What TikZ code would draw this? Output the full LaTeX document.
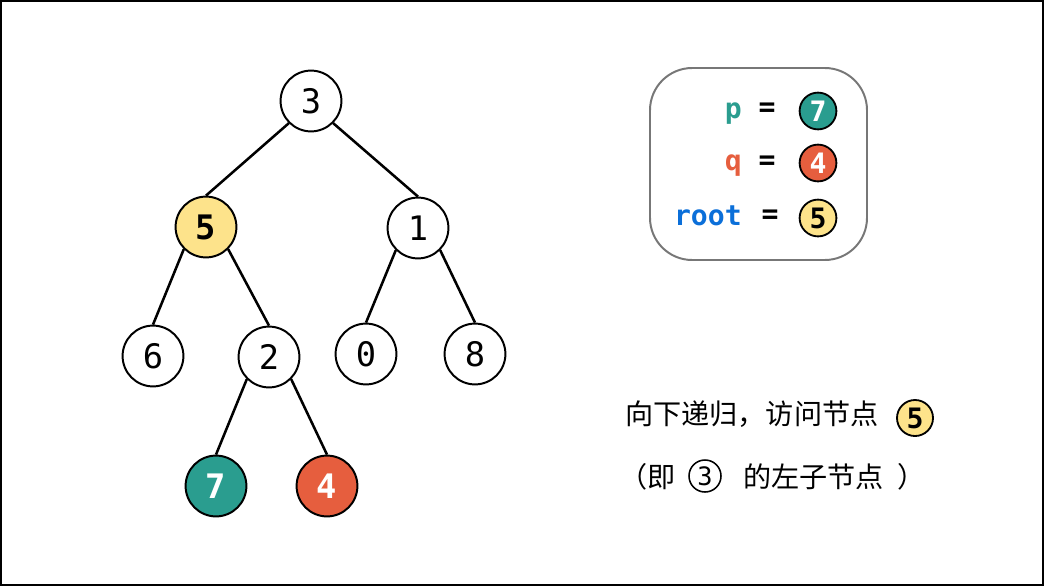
\documentclass[tikz,border=0pt]{standalone}
\usepackage{fontspec}
\setmonofont{DejaVu Sans Mono}
\newfontfamily\cjk{Noto Sans CJK SC}
\usetikzlibrary{calc}
\definecolor{pteal}{HTML}{2A9D8F}
\definecolor{qred}{HTML}{E65E3E}
\definecolor{ryellow}{HTML}{FDE38B}
\definecolor{rblue}{HTML}{0B6FD9}
\definecolor{boxgray}{HTML}{777777}

\begin{document}
\begin{tikzpicture}[x=0.025cm,y=-0.025cm,
  vertex/.style={circle,draw,line width=1.4pt,minimum size=1.52cm,inner sep=0pt,
    font=\ttfamily\fontsize{24}{24}\selectfont},
  dot/.style={circle,draw,line width=1.3pt,minimum size=0.92cm,inner sep=0pt,
    font=\ttfamily\bfseries\fontsize{20}{20}\selectfont},
  edge/.style={line width=1.8pt},
  label/.style={font=\ttfamily\bfseries\fontsize{20}{20}\selectfont,inner sep=0pt},
  cn/.style={font=\cjk\fontsize{20}{20}\selectfont,inner sep=0pt,anchor=west}]
  \useasboundingbox (0,0) rectangle (1044,586);
  \draw[line width=1.5pt] (1,1) rectangle (1043,585);

  % tree
  \node[vertex] (n3) at (311,101) {3};
  \node[vertex,fill=ryellow,font=\ttfamily\bfseries\fontsize{24}{24}\selectfont] (n5) at (206,227) {5};
  \node[vertex] (n1) at (418,228) {1};
  \node[vertex] (n6) at (153,356) {6};
  \node[vertex] (n2) at (269,357) {2};
  \node[vertex] (n0) at (366,354) {0};
  \node[vertex] (n8) at (475,354) {8};
  \node[vertex,fill=pteal,text=white,font=\ttfamily\bfseries\fontsize{24}{24}\selectfont] (n7) at (216,486) {7};
  \node[vertex,fill=qred,text=white,font=\ttfamily\bfseries\fontsize{24}{24}\selectfont] (n4) at (327,486) {4};
  \foreach \p/\c/\s in {n3/n5/south west,n3/n1/south east,n5/n6/south west,n5/n2/south east,
      n1/n0/south west,n1/n8/south east,n2/n7/south west,n2/n4/south east}
    \draw[edge] (\p.\s) -- (\c.north);

  % legend
  \draw[boxgray,line width=1.4pt,rounded corners=30] (650,68) rectangle (867,260);
  \node[label,text=pteal,anchor=base east] (lp) at (742,118) {p};
  \node[label,text=qred,anchor=base east] (lq) at (742,170) {q};
  \node[label,text=rblue,anchor=base east] (lr) at (742,225) {root};
  \node[label] (ep) at (767,110) {=};
  \node[label] (eq) at (767,163) {=};
  \node[label] (er) at (770,217) {=};
  \node[dot,fill=pteal,text=white] (dp) at (818,111) {7};
  \node[dot,fill=qred,text=white] (dq) at (818,163) {4};
  \node[dot,fill=ryellow] (dr) at (818,218) {5};

  % note
  \node[cn] (t1) at (625,414) {向下递归，访问节点};
  \node[dot,minimum size=0.9cm,fill=ryellow] (c5) at (915,418) {5};
  \node[cn] (t2) at (619,477) {（即};
  \node[circle,draw,line width=1.1pt,minimum size=0.8cm,inner sep=0pt,
    font=\ttfamily\fontsize{18}{18}\selectfont] (c3) at (705,476) {3};
  \node[cn] (t3) at (743,477) {的左子节点};
  \node[cn] (t4) at (897,477) {）};
\end{tikzpicture}
\end{document}
